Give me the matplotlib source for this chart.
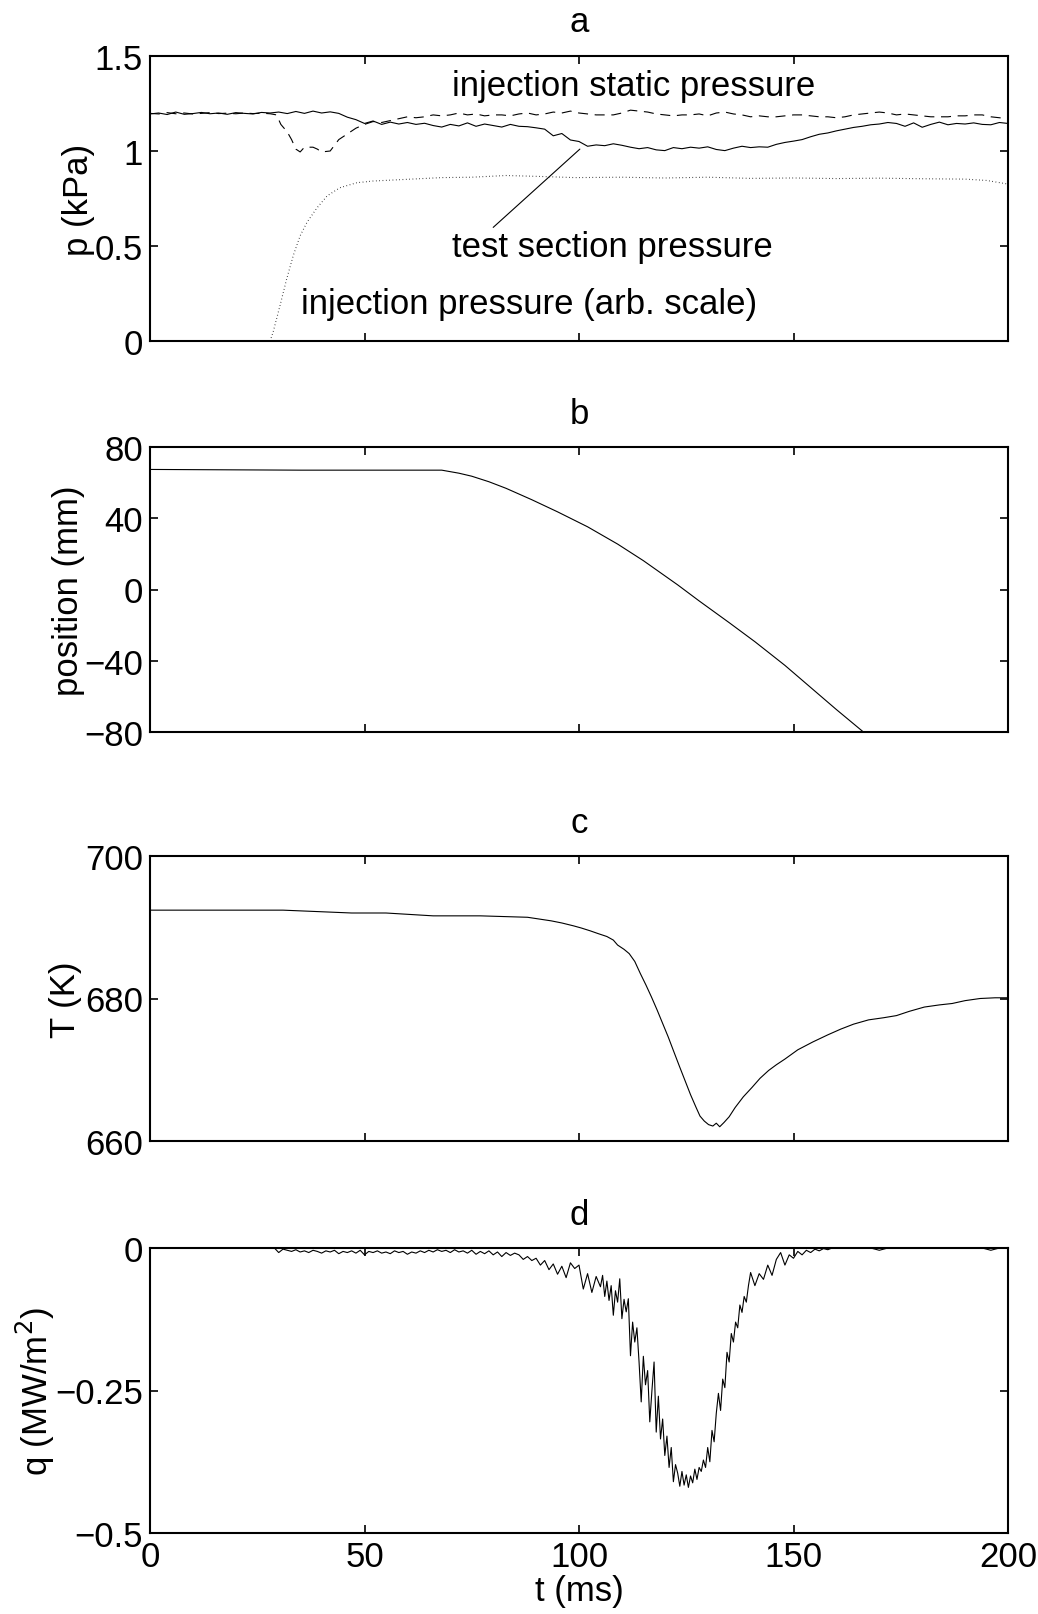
import matplotlib
matplotlib.use("Agg")
import matplotlib.pyplot as plt

plt.rcParams['font.family'] = ['Liberation Sans', 'DejaVu Sans']
plt.rcParams['font.size'] = 25

# ---- panel a: pressures ----
ts_t = [0, 2, 4, 6, 8, 10, 12, 14, 16, 18, 20, 22, 24, 26, 28, 30, 32, 34, 36, 38,
        40, 42, 44, 46, 48, 50, 52, 54, 56, 58, 60, 62, 64, 66, 68, 70, 72, 74, 76, 78,
        80, 82, 84, 86, 88, 90, 92, 94, 96, 98, 100, 102, 104, 106, 108, 110, 112, 114,
        116, 118, 120, 122, 124, 126, 128, 130, 132, 134, 136, 138, 140, 142, 144, 146,
        148, 150, 152, 154, 156, 158, 160, 162, 164, 166, 168, 170, 172, 174, 176, 178,
        180, 182, 184, 186, 188, 190, 192, 194, 196, 198, 200]
ts_p = [1.195, 1.200, 1.192, 1.205, 1.193, 1.197, 1.203, 1.196, 1.200, 1.193, 1.202,
        1.198, 1.195, 1.203, 1.200, 1.205, 1.197, 1.208, 1.198, 1.210, 1.200, 1.206,
        1.198, 1.178, 1.165, 1.145, 1.158, 1.140, 1.152, 1.142, 1.150, 1.140, 1.146,
        1.134, 1.126, 1.140, 1.132, 1.148, 1.130, 1.142, 1.134, 1.126, 1.140, 1.130,
        1.128, 1.122, 1.115, 1.080, 1.092, 1.058, 1.050, 1.025, 1.032, 1.028, 1.038,
        1.030, 1.020, 1.012, 1.018, 1.006, 1.002, 1.018, 1.012, 1.020, 1.015, 1.022,
        1.008, 1.002, 1.015, 1.025, 1.018, 1.022, 1.020, 1.035, 1.045, 1.052, 1.060,
        1.075, 1.088, 1.095, 1.106, 1.115, 1.124, 1.130, 1.138, 1.142, 1.150, 1.145,
        1.130, 1.148, 1.125, 1.140, 1.152, 1.138, 1.145, 1.142, 1.148, 1.140, 1.138,
        1.150, 1.145]

st_t = [0, 2, 4, 6, 8, 10, 12, 14, 16, 18, 20, 22, 24, 26, 28, 29.5, 30.5, 32, 33, 34,
        35, 36, 38, 39, 40, 42, 43, 44, 46, 48, 50, 52, 54, 56, 58, 60, 62, 64, 66, 68,
        70, 72, 74, 76, 78, 80, 82, 84, 86, 88, 90, 92, 94, 96, 98, 100, 102, 104, 106,
        108, 110, 112, 114, 116, 118, 120, 122, 124, 126, 128, 130, 132, 134, 136, 138,
        140, 142, 144, 146, 148, 150, 152, 154, 156, 158, 160, 162, 164, 166, 168, 170,
        172, 174, 176, 178, 180, 182, 184, 186, 188, 190, 192, 194, 196, 198, 200]
st_p = [1.198, 1.195, 1.202, 1.196, 1.200, 1.195, 1.198, 1.202, 1.197, 1.199, 1.196,
        1.200, 1.197, 1.199, 1.196, 1.190, 1.140, 1.100, 1.060, 1.010, 0.995, 1.020,
        1.020, 1.010, 0.995, 1.000, 1.030, 1.060, 1.090, 1.120, 1.140, 1.155, 1.150,
        1.160, 1.170, 1.180, 1.175, 1.180, 1.190, 1.185, 1.190, 1.200, 1.190, 1.195,
        1.185, 1.190, 1.190, 1.185, 1.195, 1.200, 1.190, 1.195, 1.205, 1.200, 1.210,
        1.200, 1.195, 1.190, 1.190, 1.190, 1.200, 1.215, 1.210, 1.205, 1.195, 1.190,
        1.185, 1.190, 1.190, 1.195, 1.185, 1.200, 1.205, 1.195, 1.190, 1.180, 1.185,
        1.180, 1.180, 1.185, 1.190, 1.190, 1.185, 1.180, 1.180, 1.175, 1.180, 1.190,
        1.195, 1.200, 1.205, 1.200, 1.190, 1.195, 1.190, 1.185, 1.180, 1.180, 1.180,
        1.185, 1.185, 1.190, 1.190, 1.180, 1.175, 1.170]

inj_t = [0, 28, 28.7, 30.3, 31.9, 33.4, 35, 36.6, 38.9, 41.3, 44.3, 48.2, 52, 60, 68,
         75, 83, 91, 99, 110, 120, 130, 140, 150, 160, 170, 180, 190, 195, 200]
inj_p = [0, 0, 0.047, 0.186, 0.33, 0.45, 0.554, 0.625, 0.70, 0.764, 0.807, 0.833,
         0.842, 0.851, 0.86, 0.862, 0.871, 0.866, 0.86, 0.862, 0.858, 0.862, 0.856,
         0.858, 0.855, 0.857, 0.854, 0.852, 0.845, 0.826]

# ---- panel b: position ----
pos_t = [0, 35, 68, 72, 75, 79, 83, 89, 95, 102, 109, 115, 123, 128, 135, 141, 148,
         154, 160, 166.3]
pos_mm = [67.4, 67.0, 67.0, 65.3, 63.6, 60.5, 56.8, 50.4, 43.6, 35.2, 25.5, 16.2,
          2.6, -6.4, -18.6, -29.3, -42.6, -55.0, -67.4, -80.0]

# ---- panel c: temperature ----
T_t = [0, 31, 47, 55, 66, 77, 88, 93.5, 96, 98.7, 100.5, 102.6, 104.5, 106.5, 108,
       109, 110.5, 111.7, 113, 114.3, 115.6, 116.9, 118.2, 119.5, 120.8, 122, 123.4,
       124.7, 126, 127.3, 128.2, 129.2, 130.2, 131.2, 132, 132.8, 133.8, 135, 136.4,
       138.3, 140.3, 142.2, 144.2, 146, 148, 151, 154.5, 158, 161, 164, 167.5, 171,
       174, 177, 180.5, 184, 187, 190, 193.5, 197, 200]
T_K = [692.4, 692.4, 692.0, 692.0, 691.6, 691.6, 691.4, 690.9, 690.6, 690.2, 689.9,
       689.5, 689.1, 688.7, 688.2, 687.5, 686.9, 686.3, 685.2, 683.5, 681.9, 680.2,
       678.4, 676.5, 674.6, 672.7, 670.5, 668.5, 666.5, 664.7, 663.5, 662.8, 662.3,
       662.1, 662.5, 662.0, 662.6, 663.4, 664.7, 666.2, 667.5, 668.8, 669.9, 670.7,
       671.5, 672.8, 673.9, 674.9, 675.7, 676.4, 677.0, 677.3, 677.6, 678.2, 678.8,
       679.1, 679.3, 679.7, 680.0, 680.1, 680.1]

# ---- panel d: heat flux ----
q_t = [0, 10, 20, 28,
       29, 30, 31, 32, 33, 34, 35, 36, 37, 38, 39, 40, 41, 42, 43, 44, 45, 46, 47, 48,
       49, 50, 51, 52, 53, 54, 55, 56, 57, 58, 59, 60, 61, 62, 63, 64, 65, 66, 67, 68,
       69, 70, 71, 72, 73, 74, 75, 76, 77, 78, 79, 80, 81, 82, 83, 84, 85, 86, 87, 88,
       89, 90, 91, 92, 93, 94, 95, 96, 97, 98, 99, 100, 101, 102, 103, 104,
       105.0, 105.5, 106.0, 106.5, 107.0, 107.5, 108.0, 108.5, 109.0, 109.5,
       110.0, 110.5, 111.0, 111.5, 112.0, 112.5, 113.0, 113.5, 114.0, 114.5,
       115.0, 115.5, 116.0, 116.5, 117.0, 117.5, 118.0, 118.5, 119.0, 119.5,
       120.0, 120.5, 121.0, 121.5, 122.0, 122.5, 123.0, 123.5, 124.0, 124.5,
       125.0, 125.5, 126.0, 126.5, 127.0, 127.5, 128.0, 128.5, 129.0, 129.5,
       130.0, 130.5, 131.0, 131.5, 132.0, 132.5, 133.0, 133.5, 134.0, 134.5,
       135.0, 135.5, 136.0, 136.5, 137.0, 137.5, 138.0, 138.5, 139.0, 139.5,
       140, 141, 142, 143, 144, 145, 146, 147, 148, 149, 150, 151, 152, 153, 154,
       155, 156, 157, 158, 159,
       160, 162, 164, 166, 168, 170, 172, 174, 176, 178, 180, 182, 184, 186, 188,
       190, 192, 194, 196, 198, 200]
q_MW = [0, 0, 0, 0,
        0.0, -0.008, -0.002, -0.004, -0.006, -0.003, -0.007, -0.005, -0.008, -0.004,
        -0.006, -0.009, -0.005, -0.007, -0.004, -0.010, -0.006, -0.008, -0.005, -0.009,
        -0.004, -0.012, -0.006, -0.008, -0.005, -0.009, -0.007, -0.010, -0.005, -0.008,
        -0.006, -0.011, -0.007, -0.009, -0.005, -0.008, -0.004, -0.007, -0.003, -0.006,
        -0.004, -0.008, -0.003, -0.007, -0.005, -0.009, -0.004, -0.011, -0.006, -0.010,
        -0.005, -0.012, -0.007, -0.015, -0.008, -0.013, -0.009, -0.012, -0.020, -0.015,
        -0.022, -0.018, -0.030, -0.022, -0.038, -0.028, -0.046, -0.032, -0.052, -0.026,
        -0.036, -0.030, -0.072, -0.045, -0.078, -0.050,
        -0.068, -0.048, -0.085, -0.058, -0.092, -0.066, -0.118, -0.075, -0.095, -0.054,
        -0.124, -0.090, -0.112, -0.089, -0.189, -0.130, -0.165, -0.140, -0.200, -0.270,
        -0.190, -0.240, -0.215, -0.305, -0.250, -0.200, -0.323, -0.260, -0.335, -0.300,
        -0.364, -0.330, -0.385, -0.350, -0.410, -0.380, -0.395, -0.418, -0.392, -0.416,
        -0.398, -0.420, -0.400, -0.412, -0.388, -0.406, -0.385, -0.392, -0.372, -0.385,
        -0.350, -0.375, -0.320, -0.340, -0.290, -0.255, -0.285, -0.230, -0.245, -0.183,
        -0.200, -0.150, -0.165, -0.130, -0.140, -0.100, -0.113, -0.085, -0.095, -0.066,
        -0.043, -0.066, -0.045, -0.055, -0.030, -0.048, -0.020, -0.008, -0.030, -0.012,
        -0.018, -0.006, -0.012, -0.004, -0.008, -0.002, -0.005, -0.001, -0.003, 0.0,
        0, 0, 0, 0, 0, -0.004, 0, 0, 0, 0, 0, 0, 0, 0, 0, 0, 0, 0, -0.004, 0, 0]

x_ticks = [0, 50, 100, 150, 200]
a_ticks, a_labels = [0, 0.5, 1, 1.5], ['0', '0.5', '1', '1.5']
b_ticks, b_labels = [-80, -40, 0, 40, 80], ['\u221280', '\u221240', '0', '40', '80']
c_ticks, c_labels = [660, 680, 700], ['660', '680', '700']
d_ticks, d_labels = [-0.5, -0.25, 0], ['\u22120.5', '\u22120.25', '0']

W, H = 1038, 1615
fig = plt.figure(figsize=(W / 100, H / 100), dpi=100, facecolor='white')

left, width, height = 150 / W, 858 / W, 285 / H
tops = [57, 448, 857, 1249]
axes = [fig.add_axes([left, 1 - (t + 285) / H, width, height]) for t in tops]

lw = 0.8
for ax in axes:
    ax.set_xlim(0, 200)
    ax.set_xticks(x_ticks)
    ax.tick_params(direction='in', length=6, width=1.2, top=True, right=True,
                   labelsize=25)
    ax.tick_params(axis='y', pad=5)
    ax.tick_params(axis='x', pad=5)
    for s in ax.spines.values():
        s.set_linewidth(1.5)

ax1, ax2, ax3, ax4 = axes

# a
ax1.plot(ts_t, ts_p, color='black', lw=lw)
ax1.plot(st_t, st_p, color='black', lw=lw, dashes=(9, 6))
ax1.plot(inj_t, inj_p, color='black', lw=0.8, ls=(0, (0.6, 2.4)))
ax1.set_ylim(0, 1.5)
ax1.set_yticks(a_ticks)
ax1.set_yticklabels(a_labels)
ax1.set_xticklabels([])
ax1.set_ylabel('p (kPa)')
ax1.yaxis.set_label_coords(-0.064, 0.5)
ax1.set_title('a', fontsize=25, pad=18)
ax1.text(70.3, 1.344, 'injection static pressure', va='center', ha='left')
ax1.text(70.3, 0.495, 'test section pressure', va='center', ha='left')
ax1.text(35.3, 0.195, 'injection pressure (arb. scale)', va='center', ha='left')
ax1.annotate('', xy=(100.2, 1.01), xytext=(80, 0.598),
             arrowprops=dict(arrowstyle='-', lw=0.8, color='black',
                             shrinkA=0, shrinkB=0))

# b
ax2.plot(pos_t, pos_mm, color='black', lw=lw)
ax2.set_ylim(-80, 80)
ax2.set_yticks(b_ticks)
ax2.set_yticklabels(b_labels)
ax2.set_xticklabels([])
ax2.set_ylabel('position (mm)')
ax2.yaxis.set_label_coords(-0.076, 0.5)
ax2.set_title('b', fontsize=25, pad=17)

# c
ax3.plot(T_t, T_K, color='black', lw=lw)
ax3.set_ylim(660, 700)
ax3.set_yticks(c_ticks)
ax3.set_yticklabels(c_labels)
ax3.set_xticklabels([])
ax3.set_ylabel('T (K)')
ax3.yaxis.set_label_coords(-0.079, 0.5)
ax3.set_title('c', fontsize=25, pad=17)

# d
ax4.plot(q_t, q_MW, color='black', lw=lw)
ax4.set_ylim(-0.5, 0)
ax4.set_yticks(d_ticks)
ax4.set_yticklabels(d_labels)
ax4.set_xticklabels([str(v) for v in x_ticks])
ax4.set_ylabel('q (MW/m$^2$)')
ax4.yaxis.set_label_coords(-0.108, 0.5)
ax4.set_xlabel('t (ms)', labelpad=1)
ax4.set_title('d', fontsize=25, pad=17)

fig.savefig('out.png', dpi=100, facecolor='white')
